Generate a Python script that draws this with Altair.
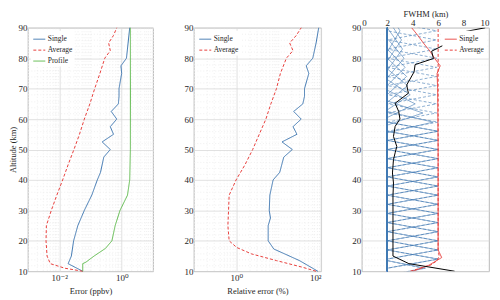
import altair as alt
import pandas as pd

FONT = "Liberation Serif, Times New Roman, DejaVu Serif, serif"
BLUE = "#3b74ae"
KBLUE = "#4279b3"
RED = "#e8403c"
GREEN = "#5cb84a"
TEXT = "#262626"

# ---------------- Panel 1: Error (ppbv) ----------------
p1_single_alt = [10, 12.5, 15, 20, 25, 30, 35, 40, 42.5, 47.5, 50, 52.5, 55, 57.5, 60, 62.5, 65, 67.5, 70, 75, 77.5, 80, 85, 90]
p1_single_val = [0.0565, 0.0193, 0.0245, 0.0289, 0.0394, 0.0636, 0.110, 0.165, 0.209, 0.266, 0.429, 0.236, 0.544, 0.429, 0.690, 0.460, 0.778, 0.816, 0.816, 0.99, 0.94, 1.41, 1.59, 1.79]
p1_avg_alt = [10, 11, 12.5, 15, 20, 25, 30, 35, 40, 45, 50, 55, 60, 65, 70, 75, 80, 82.5, 85, 87.5, 90]
p1_avg_val = [0.0565, 0.0152, 0.0052, 0.0041, 0.0038, 0.0039, 0.0056, 0.0084, 0.0129, 0.0193, 0.0296, 0.0445, 0.0636, 0.0955, 0.136, 0.2, 0.286, 0.429, 0.38, 0.544, 0.69]
p1_prof_alt = [10, 12.5, 13, 15, 17.5, 20, 25, 30, 35, 40, 50, 90]
p1_prof_val = [0.0565, 0.0565, 0.0717, 0.13, 0.3, 0.483, 0.614, 0.877, 1.52, 1.79, 1.88, 1.88]

# ---------------- Panel 2: Relative error (%) ----------------
p2_single_alt = [10, 11.3, 13.5, 15.7, 17.3, 20, 25, 27.5, 30, 35, 40, 42.5, 47.5, 50, 52.5, 55, 57.5, 60, 62.5, 65, 67.5, 70, 75, 77.5, 80, 85, 90]
p2_single_val = [84, 58, 31, 13.9, 7.7, 5.66, 5.66, 6.4, 6.0, 6.2, 7.4, 10.6, 13.2, 21, 12, 27, 21.8, 34, 22.6, 37.2, 40.7, 40.7, 51.5, 44.6, 63.8, 76.4, 88]
p2_avg_alt = [10, 11.3, 13.5, 15.7, 17.8, 20, 25, 30, 35, 40, 45, 50, 55, 60, 65, 70, 75, 80, 82.5, 85, 87.5, 90]
p2_avg_val = [76, 37, 8.9, 2.3, 1.03, 0.68, 0.635, 0.658, 0.68, 0.99, 1.61, 2.44, 3.49, 5.0, 6.55, 8.87, 11.0, 15.2, 21.8, 18.2, 26.1, 34]

# ---------------- Panel 3: Averaging kernels ----------------
k_center = [11, 14, 17, 20, 23, 26, 29, 32, 35, 38, 41, 44, 47, 50, 53, 56, 59, 62, 65, 68, 71, 74, 77, 80, 83, 86, 89]
k_single_peak = [0.75, 1, 1, 1, 1, 1, 1, 1, 1, 1, 1, 1, 1, 1, 1, 1, 0.9, 0.7, 0.55, 0.45, 0.4, 0.38, 0.35, 0.33, 0.3, 0.28, 0.25]
k_single_hw = [2.5, 3, 3, 3, 3, 3, 3, 3, 3, 3, 3, 3, 3, 3, 3, 3, 3.5, 4, 4.5, 5, 5.5, 6, 6, 6.5, 7, 7, 7]
k_avg_peak = [0.7, 1, 1, 1, 1, 1, 1, 1, 1, 1, 1, 1, 1, 1, 1, 1, 1, 0.97, 0.97, 0.97, 0.97, 0.97, 0.97, 0.97, 0.97, 0.97, 0.97]
k_avg_hw = [2.5, 3, 3, 3, 3, 3, 3, 3, 3, 3, 3, 3, 3, 3, 3, 3, 3, 3, 3, 3, 3, 3, 3, 3, 3, 3, 3]

sum_single_alt = [10, 12, 14.5, 17, 30, 50, 70, 75, 77.5, 80, 82.5, 85, 87.5, 90]
sum_single_val = [0.5, 0.82, 1.07, 1.0, 1.0, 1.0, 0.99, 0.98, 1.04, 0.93, 0.83, 0.71, 0.6, 0.48]
sum_avg_alt = [10, 12, 13.5, 15, 17, 90]
sum_avg_val = [0.45, 0.85, 0.98, 1.02, 1.0, 1.0]

fwhm_alt = [10, 12.5, 15, 25, 34.7, 39, 42.3, 46.7, 48.9, 51, 54.3, 57.6, 60, 62.5, 65.2, 68.5, 71.2, 75.5, 77.9, 79.9, 82.3, 84.8, 87.5, 90]
fwhm_val = [7.3, 3.7, 2.45, 2.45, 2.45, 2.49, 2.41, 2.49, 2.62, 2.75, 2.49, 2.62, 3.0, 2.9, 2.62, 3.66, 3.53, 4.11, 4.19, 5.63, 5.49, 6.67, 6.55, 9.7]


def series_df(pairs):
    frames = []
    for name, alts, vals in pairs:
        frames.append(pd.DataFrame({"alt": alts, "val": vals, "series": name}))
    return pd.concat(frames, ignore_index=True)


def kernel_df(centers, peaks, hws):
    rows = []
    for i, (c, pk, hw) in enumerate(zip(centers, peaks, hws)):
        pts = []
        if c - hw > 10:
            pts.append((10, 0.0))
        pts += [(c - hw, 0.0), (c, pk), (c + hw, 0.0)]
        if c + hw < 90:
            pts.append((90, 0.0))
        for a, v in pts:
            rows.append({"k": i, "alt": a, "ak": v})
    return pd.DataFrame(rows)


df1 = series_df([("Single", p1_single_alt, p1_single_val),
                 ("Average", p1_avg_alt, p1_avg_val),
                 ("Profile", p1_prof_alt, p1_prof_val)])
df2 = series_df([("Single", p2_single_alt, p2_single_val),
                 ("Average", p2_avg_alt, p2_avg_val)])
df3s = series_df([("Single", sum_single_alt, sum_single_val),
                  ("Average", sum_avg_alt, sum_avg_val)])
dfk_s = kernel_df(k_center, k_single_peak, k_single_hw)
dfk_a = kernel_df(k_center, k_avg_peak, k_avg_hw)
dff = pd.DataFrame({"alt": fwhm_alt, "fwhm": fwhm_val})

MAJ = "#d9d9d9"
MIN = "#ececec"
H = 245
LFS = 9     # tick label font size
TFS = 8.5   # axis title font size


def grid_color(test):
    return {"condition": {"test": test, "value": MAJ}, "value": MIN}


def grid_dash(test):
    return {"condition": {"test": test, "value": []}, "value": [1, 2]}


y_test = "datum.value % 10 == 0"


def y_enc(title):
    ax = alt.Axis(values=list(range(10, 91, 2)),
                  labelExpr="datum.value % 10 == 0 ? datum.label : ''",
                  gridColor=grid_color(y_test), gridDash=grid_dash(y_test),
                  labelPadding=1, titlePadding=0, title=title if title else "")
    return alt.Y("alt:Q", scale=alt.Scale(domain=[10, 90], nice=False, zero=False), axis=ax)


def log_values(lo_exp, hi_exp, lo, hi):
    vals = []
    for d in range(lo_exp, hi_exp + 1):
        for m in range(1, 10):
            v = round(m * 10 ** d, 6)
            if lo - 1e-9 <= v <= hi + 1e-9:
                vals.append(v)
    return vals


legend_common = dict(title=None, fillColor="white", padding=2, offset=3,
                     labelFont=FONT, labelFontSize=7.5, labelColor=TEXT,
                     symbolSize=144, symbolStrokeWidth=1, rowPadding=1,
                     labelOffset=2)

# Panel 1
t1 = "datum.value == 0.01 || datum.value == 1"
x1 = alt.X("val:Q", scale=alt.Scale(type="log", domain=[0.001, 10], nice=False),
           axis=alt.Axis(values=log_values(-3, 1, 0.001, 10), title="Error (ppbv)",
                         labelExpr="datum.value == 0.01 ? '10⁻²' : datum.value == 1 ? '10⁰' : ''",
                         gridColor=grid_color(t1), gridDash=grid_dash(t1),
                         labelPadding=2, titlePadding=4))
dom1 = ["Single", "Average", "Profile"]
p1 = alt.Chart(df1).mark_line(strokeWidth=1).encode(
    x=x1, y=y_enc("Altitude (km)"),
    color=alt.Color("series:N", scale=alt.Scale(domain=dom1, range=[BLUE, RED, GREEN]),
                    legend=alt.Legend(orient="top-left", **legend_common)),
    strokeDash=alt.StrokeDash("series:N", scale=alt.Scale(domain=dom1, range=[[1, 0], [3, 2], [1, 0]]),
                              legend=alt.Legend(orient="top-left", **legend_common)),
    order="alt:Q",
).properties(width=126, height=H)

# Panel 2
t2 = "datum.value == 1 || datum.value == 100"
x2 = alt.X("val:Q", scale=alt.Scale(type="log", domain=[0.1, 100], nice=False),
           axis=alt.Axis(values=log_values(-1, 2, 0.1, 100), title="Relative error (%)",
                         labelExpr="datum.value == 1 ? '10⁰' : datum.value == 100 ? '10²' : ''",
                         gridColor=grid_color(t2), gridDash=grid_dash(t2),
                         labelPadding=2, titlePadding=4))
dom2 = ["Single", "Average"]
p2 = alt.Chart(df2).mark_line(strokeWidth=1).encode(
    x=x2, y=y_enc(None),
    color=alt.Color("series:N", scale=alt.Scale(domain=dom2, range=[BLUE, RED]),
                    legend=alt.Legend(orient="top-left", **legend_common)),
    strokeDash=alt.StrokeDash("series:N", scale=alt.Scale(domain=dom2, range=[[1, 0], [3, 2]]),
                              legend=alt.Legend(orient="top-left", **legend_common)),
    order="alt:Q",
).properties(width=128, height=H)

# Panel 3
t3 = "abs(datum.value * 2 - round(datum.value * 2)) < 0.001"
ak_vals = [round(-0.5 + 0.1 * i, 2) for i in range(26)]
ak_scale = alt.Scale(domain=[-0.5, 2], nice=False, zero=False)
x3 = alt.X("ak:Q", scale=ak_scale,
           axis=alt.Axis(values=ak_vals, title="Averaging kernel (-)",
                         labelExpr=t3 + " ? replace(format(datum.value, '~g'), '−', '-') : ''",
                         gridColor=grid_color(t3), gridDash=grid_dash(t3),
                         labelPadding=2, titlePadding=4))
x3b = alt.X("val:Q", scale=ak_scale, axis=None)

kd = alt.Chart(dfk_a).mark_line(strokeWidth=0.6, strokeDash=[3, 2], color=KBLUE, clip=True).encode(
    x=x3, y=y_enc(None), detail="k:N", order="alt:Q")
ks = alt.Chart(dfk_s).mark_line(strokeWidth=0.6, color=KBLUE, clip=True).encode(
    x=x3, y=y_enc(None), detail="k:N", order="alt:Q")
dom3 = ["Single", "Average"]
rs = alt.Chart(df3s).mark_line(strokeWidth=1, clip=True).encode(
    x=x3b, y=y_enc(None),
    color=alt.Color("series:N", scale=alt.Scale(domain=dom3, range=[RED, RED]),
                    legend=alt.Legend(orient="top-right", **legend_common)),
    strokeDash=alt.StrokeDash("series:N", scale=alt.Scale(domain=dom3, range=[[1, 0], [3, 2]]),
                              legend=alt.Legend(orient="top-right", **legend_common)),
    order="alt:Q")
fw = alt.Chart(dff).mark_line(strokeWidth=1, color="black", clip=True).encode(
    x=alt.X("fwhm:Q", scale=alt.Scale(domain=[0, 10], nice=False, zero=False),
            axis=alt.Axis(orient="top", values=[0, 2, 4, 6, 8, 10], title="FWHM (km)",
                          grid=False, labelPadding=0, titlePadding=0)),
    y=y_enc(None), order="alt:Q")

p3 = alt.layer(alt.layer(kd, ks, rs), fw).resolve_scale(x="independent").properties(width=128, height=H)

chart = alt.hconcat(p1, p2, p3, spacing=41, bounds="flush").resolve_scale(
    color="independent", strokeDash="independent"
).properties(
    padding={"left": 0, "top": 0, "right": 2, "bottom": 0}
).configure_view(
    stroke="#a8a8a8", strokeWidth=0.8
).configure_axis(
    labelFont=FONT, titleFont=FONT, labelFontSize=LFS, titleFontSize=TFS,
    labelColor=TEXT, titleColor=TEXT, titleFontWeight="normal",
    domain=False, ticks=False, gridWidth=0.8
)

chart.save("out.html", embed_options={"renderer": "svg", "actions": False})
